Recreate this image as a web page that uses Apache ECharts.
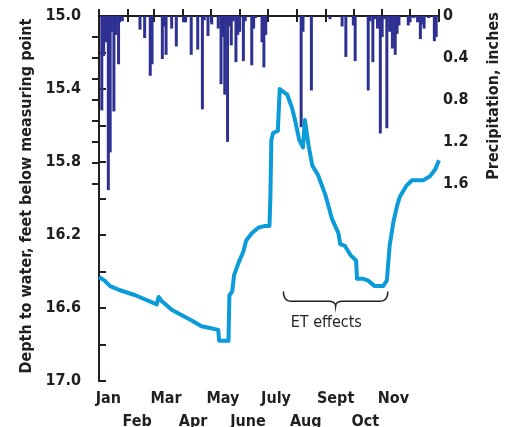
<!DOCTYPE html>
<html>
<head>
<meta charset="utf-8">
<script src="https://cdn.jsdelivr.net/npm/echarts@6/dist/echarts.min.js"></script>
<style>
html,body{margin:0;padding:0;background:#fff;}
#chart{width:507px;height:427px;}
</style>
</head>
<body>
<div id="chart"></div>
<script>
// ---- Data ----
const monthTicks = [0, 31, 59, 90, 120, 151, 181, 212, 243, 273, 304, 334, 365];
const monthNames = ['Jan', 'Feb', 'Mar', 'Apr', 'May', 'June', 'July', 'Aug', 'Sept', 'Oct', 'Nov', 'Dec'];
const monthLabelDays = [10, 41, 72, 101, 133, 160, 190, 222, 254, 286, 316, 348];

const depthLabels = [15.0, 15.4, 15.8, 16.2, 16.6, 17.0];
const precipLabels = [0, 0.4, 0.8, 1.2, 1.6];
const precipTicks = [0.2, 0.4, 0.6, 0.8, 1.0, 1.2, 1.4, 1.6];

// Daily precipitation (day of year, inches)
const precipDays = [3, 5, 7, 8, 10, 12, 14, 16, 18, 21, 22, 25, 44, 49, 55, 57, 68, 70, 72, 78, 83, 91, 93, 99, 106, 111, 113, 117, 121,
  128, 131, 133, 135, 138, 140, 142, 144, 147, 149, 151, 155, 157, 164, 166, 168, 175, 177, 179,
  217, 219, 228, 248, 261, 265, 273, 275, 289, 291, 294, 296, 299, 302, 304, 306, 309, 312, 315, 318, 320, 322,
  332, 334, 338, 342, 345, 347, 349, 354, 360, 362];
const precipInches = [0.90, 0.38, 0.25, 0.10, 1.66, 1.30, 0.15, 0.91, 0.18, 0.46, 0.06, 0.05, 0.13, 0.21, 0.57, 0.46, 0.41, 0.10, 0.37, 0.12, 0.29, 0.06, 0.06, 0.37, 0.32, 0.89, 0.04, 0.19, 0.08,
  0.12, 0.65, 0.20, 0.75, 1.20, 0.10, 0.28, 0.05, 0.44, 0.18, 0.15, 0.43, 0.05, 0.47, 0.12, 0.02, 0.25, 0.49, 0.18,
  1.06, 0.15, 0.71, 0.03, 0.10, 0.39, 0.09, 0.43, 0.71, 0.05, 0.44, 0.03, 0.12, 1.12, 0.20, 0.03, 1.07, 0.15, 0.31, 0.37, 0.17, 0.09,
  0.09, 0.06, 0.02, 0.06, 0.22, 0.08, 0.12, 0.02, 0.24, 0.20];

// Depth to water (day of year, feet below measuring point)
const levelDays = [0, 1, 6, 12, 21, 39, 62, 64, 67, 78, 89, 100, 110, 119, 128, 129, 139, 140, 143, 145, 150, 155, 158, 164, 171, 178, 183,
  184, 185, 187, 192, 194, 199, 202, 207, 210, 215, 219, 221, 225, 229, 235, 243, 250, 257, 259, 264, 270, 276, 277, 284, 289, 296, 305,
  309, 312, 316, 320, 323, 330, 336, 348, 355, 361, 365];
const levelDepth = [16.43, 16.44, 16.45, 16.48, 16.50, 16.53, 16.58, 16.54, 16.56, 16.61, 16.64, 16.67, 16.70, 16.71, 16.72, 16.78, 16.78, 16.53, 16.51, 16.42, 16.35, 16.29, 16.23, 16.19, 16.16, 16.15, 16.15,
  15.99, 15.68, 15.64, 15.63, 15.40, 15.42, 15.43, 15.50, 15.56, 15.68, 15.72, 15.57, 15.71, 15.82, 15.87, 15.98, 16.11, 16.19, 16.25, 16.26, 16.31, 16.34, 16.44, 16.44, 16.45, 16.48, 16.48,
  16.45, 16.26, 16.13, 16.04, 15.99, 15.93, 15.90, 15.90, 15.88, 15.84, 15.79];

// Annotation (data coordinates)
const braceDays = [198, 254, 310];
const braceDepths = [16.51, 16.563, 16.59];
const etLabel = 'ET effects';
const etLabelPos = [244, 16.68];

// ---- Chart ----
const FONT = "'Liberation Sans Narrow','DejaVu Sans Condensed',sans-serif";
const INK = '#231f20';
const chart = echarts.init(document.getElementById('chart'), null, {renderer: 'canvas'});

const axisLineStyle = {show: true, lineStyle: {color: INK, width: 2}};
const tickStyle = {show: true, inside: true, length: 7, lineStyle: {color: INK, width: 2}};

chart.setOption({
  animation: false,
  backgroundColor: '#fff',
  grid: {left: 99, right: 68, top: 16, bottom: 46, containLabel: false, outerBoundsMode: 'none'},
  xAxis: [
    {
      type: 'value', min: 0, max: 365, position: 'bottom',
      axisLine: axisLineStyle,
      axisTick: Object.assign({}, tickStyle, {customValues: monthTicks}),
      axisLabel: {
        customValues: monthLabelDays,
        margin: 6, lineHeight: 23,
        fontFamily: FONT, fontWeight: 'bold', fontSize: 16, color: INK,
        formatter: function (v) {
          const i = monthLabelDays.indexOf(v);
          if (i < 0) return '';
          return i % 2 === 0 ? monthNames[i] : '\n' + monthNames[i];
        }
      },
      splitLine: {show: false}
    },
    {
      type: 'value', min: 0, max: 365, position: 'top',
      axisLine: axisLineStyle,
      axisTick: Object.assign({}, tickStyle, {length: 6, customValues: monthTicks}),
      axisLabel: {show: false},
      splitLine: {show: false}
    }
  ],
  yAxis: [
    {
      type: 'value', inverse: true, min: 15, max: 17, interval: 0.2, position: 'left',
      axisLine: axisLineStyle,
      axisTick: tickStyle,
      axisLabel: {
        customValues: depthLabels,
        margin: 18,
        fontFamily: FONT, fontWeight: 'bold', fontSize: 16, color: INK,
        formatter: function (v) { return v.toFixed(1); }
      },
      splitLine: {show: false}
    },
    {
      type: 'value', inverse: true, min: 0, max: 3.48, position: 'right',
      axisLine: axisLineStyle,
      axisTick: Object.assign({}, tickStyle, {customValues: precipTicks}),
      axisLabel: {
        customValues: precipLabels,
        margin: 4,
        fontFamily: FONT, fontWeight: 'bold', fontSize: 16, color: INK,
        formatter: function (v) { return v === 0 ? '0' : v.toFixed(1); }
      },
      splitLine: {show: false}
    }
  ],
  series: [
    {
      name: 'Precipitation', type: 'bar', xAxisIndex: 0, yAxisIndex: 1,
      barWidth: 3,
      itemStyle: {color: '#2e3192'},
      data: precipDays.map((d, i) => [d, precipInches[i]]),
      z: 2
    },
    {
      name: 'Depth to water', type: 'line', xAxisIndex: 0, yAxisIndex: 0,
      showSymbol: false, symbol: 'none',
      lineStyle: {color: '#0b9bd8', width: 4, join: 'round'},
      data: levelDays.map((d, i) => [d, levelDepth[i]]),
      z: 3
    }
  ]
});

// Brace + label placed through the axes' own scales
const px = (d, v) => chart.convertToPixel({xAxisIndex: 0, yAxisIndex: 0}, [d, v]);
const pL = px(braceDays[0], braceDepths[0]);
const pC = px(braceDays[1], braceDepths[2]);
const pR = px(braceDays[2], braceDepths[0]);
const yMid = px(braceDays[1], braceDepths[1])[1];
const r = 8;
function quad(p0, c, p1, n) {
  const out = [];
  for (let k = 0; k <= n; k++) {
    const t = k / n, u = 1 - t;
    out.push([u * u * p0[0] + 2 * u * t * c[0] + t * t * p1[0], u * u * p0[1] + 2 * u * t * c[1] + t * t * p1[1]]);
  }
  return out;
}
let bracePts = [];
bracePts = bracePts.concat(quad([pL[0], pL[1]], [pL[0], yMid], [pL[0] + r, yMid], 8));
bracePts = bracePts.concat(quad([pC[0] - r, yMid], [pC[0], yMid], [pC[0], pC[1]], 8));
bracePts = bracePts.concat(quad([pC[0], pC[1]], [pC[0], yMid], [pC[0] + r, yMid], 8));
bracePts = bracePts.concat(quad([pR[0] - r, yMid], [pR[0], yMid], [pR[0], pR[1]], 8));
const pT = px(etLabelPos[0], etLabelPos[1]);

chart.setOption({
  graphic: [
    {
      id: 'leftTitle', type: 'text', x: 27, y: 196, rotation: Math.PI / 2,
      style: {text: 'Depth to water, feet below measuring point', align: 'center', verticalAlign: 'middle',
        font: "bold 16px " + FONT, fill: INK}
    },
    {
      id: 'rightTitle', type: 'text', x: 494, y: 96, rotation: Math.PI / 2,
      style: {text: 'Precipitation, inches', align: 'center', verticalAlign: 'middle',
        font: "bold 16px " + FONT, fill: INK}
    },
    {
      id: 'brace', type: 'polyline', shape: {points: bracePts},
      style: {fill: null, stroke: INK, lineWidth: 1.5}
    },
    {
      id: 'etText', type: 'text', x: pT[0], y: pT[1],
      style: {text: etLabel, align: 'center', verticalAlign: 'middle', font: "16px " + FONT, fill: INK}
    }
  ]
});
</script>
</body>
</html>
